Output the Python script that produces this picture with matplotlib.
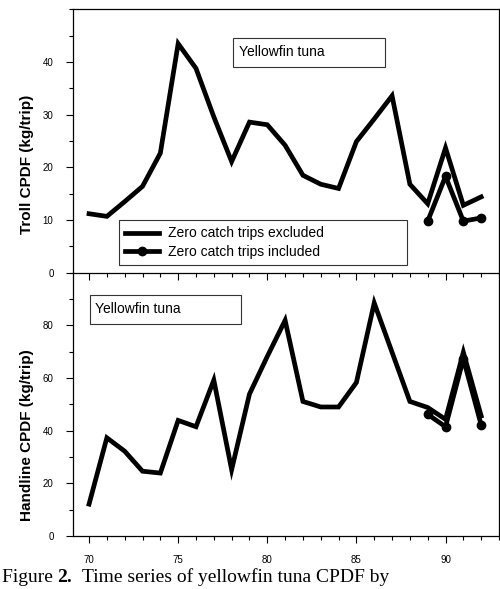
import matplotlib.pyplot as plt
from matplotlib.patches import Rectangle
from matplotlib.ticker import MultipleLocator

plt.rcParams['font.family'] = ['Liberation Sans', 'DejaVu Sans']

years = list(range(70, 93))
years_incl = [89, 90, 91, 92]

# troll CPDF (kg/trip)
troll_excl = [11.2, 10.7, 13.5, 16.4, 22.7, 43.5, 38.8, 29.6, 21.1, 28.6, 28.1, 24.2,
              18.5, 16.8, 16.0, 24.9, 29.2, 33.6, 16.8, 13.1, 23.7, 12.8, 14.4]
troll_incl = [9.8, 18.3, 9.8, 10.4]

# handline CPDF (kg/trip)
hand_excl = [12.1, 37.3, 32.2, 24.6, 23.9, 43.9, 41.5, 59.2, 25.2, 53.9, 68.2, 81.9,
             51.1, 49.0, 49.0, 58.3, 88.5, 69.8, 51.1, 48.8, 44.3, 69.8, 45.6]
hand_incl = [46.2, 41.5, 67.3, 42.2]

fig = plt.figure(figsize=(5, 5.89), dpi=100)
ax2 = fig.add_axes([0.146, 0.090, 0.852, 0.447])
ax1 = fig.add_axes([0.146, 0.537, 0.852, 0.447])
ax1.patch.set_visible(False)
ax2.patch.set_visible(False)

lw = 3.4
ax1.plot(years, troll_excl, color='black', lw=lw, solid_joinstyle='miter',
         label='Zero catch trips excluded')
ax1.plot(years_incl, troll_incl, color='black', lw=lw, marker='o', ms=6,
         label='Zero catch trips included')
ax2.plot(years, hand_excl, color='black', lw=lw, solid_joinstyle='miter')
ax2.plot(years_incl, hand_incl, color='black', lw=lw, marker='o', ms=6)

ax1.set_ylim(0, 50)
ax2.set_ylim(0, 100)
for ax in (ax1, ax2):
    ax.set_xlim(69.1, 93)
    ax.xaxis.set_major_locator(MultipleLocator(5))
    ax.xaxis.set_minor_locator(MultipleLocator(1))
    ax.tick_params(axis='both', which='major', direction='out', length=5, width=0.8,
                   labelsize=7, pad=9)
    ax.tick_params(axis='both', which='minor', direction='out', length=3, width=0.8)
    for s in ax.spines.values():
        s.set_linewidth(0.9)

ax1.set_yticks([0, 10, 20, 30, 40])
ax1.yaxis.set_minor_locator(MultipleLocator(5))
ax1.tick_params(axis='x', labelbottom=False)
ax2.set_yticks([0, 20, 40, 60, 80])
ax2.yaxis.set_minor_locator(MultipleLocator(10))
ax2.spines['top'].set_visible(False)

ax1.set_ylabel('Troll CPDF (kg/trip)', fontsize=11, fontweight='bold')
ax2.set_ylabel('Handline CPDF (kg/trip)', fontsize=11, fontweight='bold')
ax1.yaxis.set_label_coords(-0.092, 0.41)
ax2.yaxis.set_label_coords(-0.092, 0.385)

# species boxes
ax1.add_patch(Rectangle((0.376, 0.783), 0.357, 0.11, transform=ax1.transAxes,
                        fill=False, edgecolor='#333333', lw=0.8))
ax1.text(0.39, 0.838, 'Yellowfin tuna', transform=ax1.transAxes, fontsize=10, va='center')
ax2.add_patch(Rectangle((0.040, 0.806), 0.354, 0.11, transform=ax2.transAxes,
                        fill=False, edgecolor='#333333', lw=0.8))
ax2.text(0.052, 0.861, 'Yellowfin tuna', transform=ax2.transAxes, fontsize=10, va='center')

leg = ax1.legend(loc='lower left', bbox_to_anchor=(0.108, 0.03, 0.676, 0.17), mode='expand',
                 fontsize=10, fancybox=False, edgecolor='#333333', framealpha=1,
                 handlelength=2.4, borderpad=0.45, labelspacing=0.3, handletextpad=0.7,
                 borderaxespad=0)
leg.get_frame().set_linewidth(0.8)

# caption under the chart
fig.text(0.004, 0.012, 'Figure ', fontsize=14, family='Liberation Serif', va='baseline')
fig.text(0.115, 0.012, '2.', fontsize=14, family='Liberation Serif', fontweight='bold',
         va='baseline')
fig.text(0.165, 0.012, 'Time series of yellowfin tuna CPDF by', fontsize=14,
         family='Liberation Serif', va='baseline')

fig.savefig('out.png', dpi=100)
